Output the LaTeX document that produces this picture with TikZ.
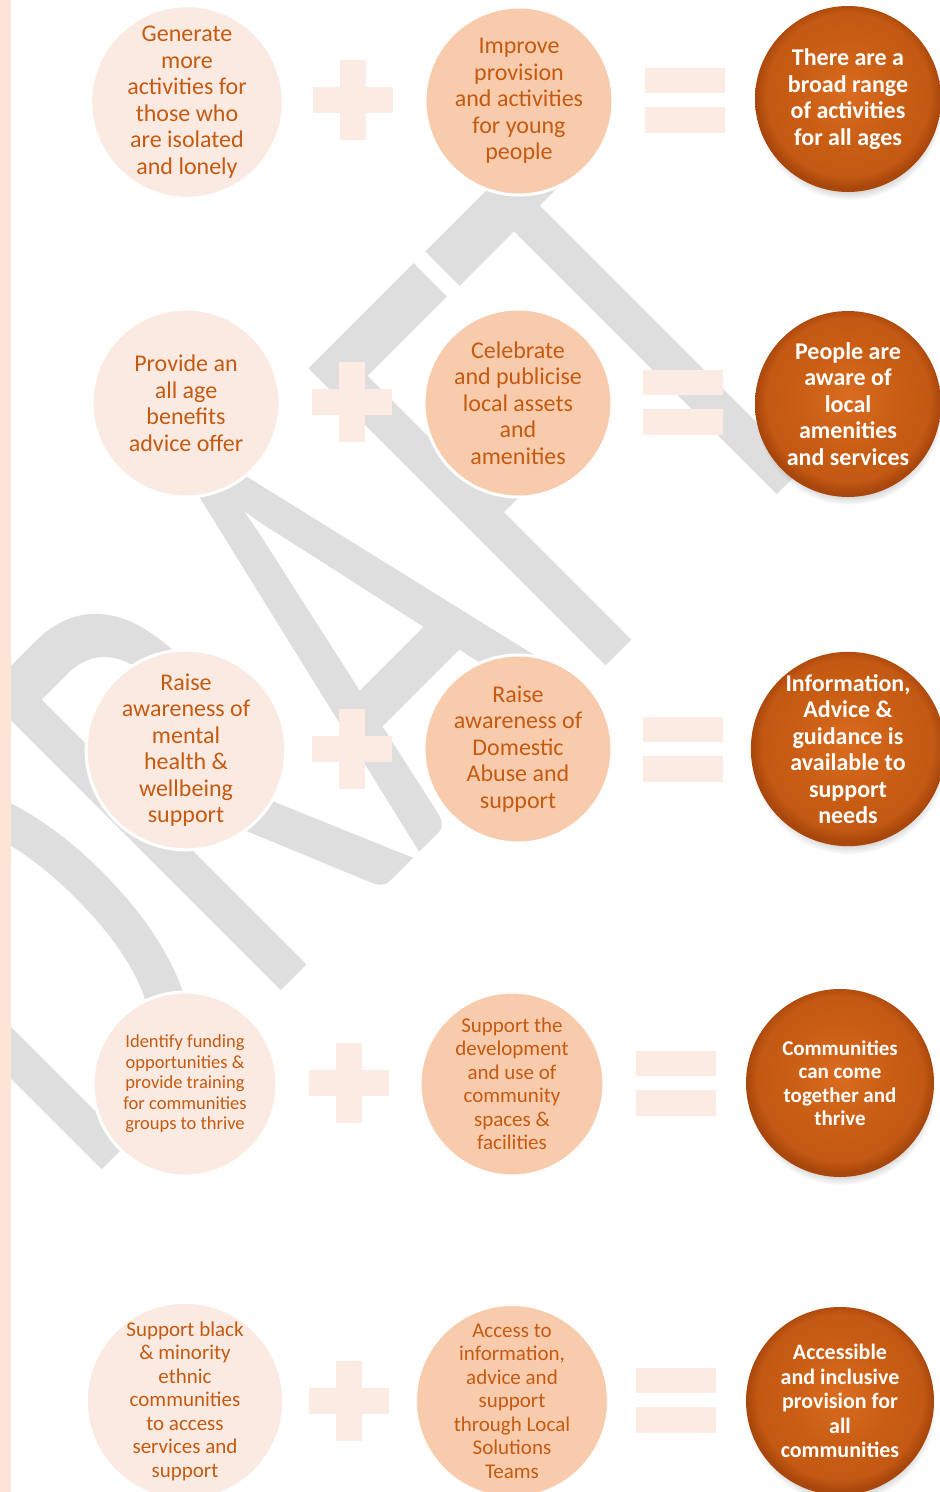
\documentclass[tikz,border=0pt]{standalone}
\usepackage{fontspec}
\setmainfont{Carlito}
\usetikzlibrary{shadows,fadings}
\definecolor{txt}{HTML}{C55A11}
\definecolor{lfill}{HTML}{FBEAE1}
\definecolor{mfill}{HTML}{F8CBAD}
\definecolor{signc}{HTML}{FBEBE2}
\definecolor{stripec}{HTML}{FBE5D6}
\definecolor{wm}{HTML}{DEDEDE}
\definecolor{oL}{HTML}{D96C1F}
\definecolor{oM}{HTML}{C95D14}
\definecolor{oD}{HTML}{A8460C}
\pgfdeclareradialshading{orb}{\pgfpoint{0bp}{2bp}}{color(0bp)=(oL); color(14bp)=(oM); color(22bp)=(oM!80!oD); color(25bp)=(oD); color(50bp)=(oD)}
\tikzset{
  plussign/.pic={\fill[signc] (-40,-13) rectangle (40,13); \fill[signc] (-13,-40) rectangle (13,40);},
  eqsign/.pic={\fill[signc] (-40,-32) rectangle (40,-7); \fill[signc] (-40,7) rectangle (40,33);}
}
\begin{document}
\begin{tikzpicture}[x=1pt,y=-1pt,
  lcirc/.style={circle, fill=lfill, draw=white, line width=3pt, text=txt, align=center, inner sep=0pt},
  mcirc/.style={lcirc, fill=mfill},
  rcirc/.style={circle, shade, shading=orb, draw=none, text=white, align=center, inner sep=0pt,
    circular drop shadow={shadow xshift=1pt, shadow yshift=-8pt, opacity=0.45, shadow scale=1.0, fill=black!55}},
  fbig/.style={font=\fontsize{24}{26.5}\selectfont},
  fbigb/.style={font=\fontsize{24}{26.5}\selectfont\bfseries},
  fsmall/.style={font=\fontsize{18.5}{20.5}\selectfont},
  fmid/.style={font=\fontsize{21}{23.5}\selectfont},
  fmidb/.style={font=\fontsize{21}{23.5}\selectfont\bfseries},
  fr5/.style={font=\fontsize{22}{24.5}\selectfont\bfseries}
]
\clip (0,0) rectangle (940,1492);
\fill[white] (0,0) rectangle (940,1492);
% watermark
\begin{scope}[shift={(82,1190)}, rotate=45, xscale=4.1, yscale=6.55]
  \node[anchor=base west, inner sep=0pt, text=wm, font=\fontsize{100}{100}\selectfont, transform shape] (wmark) at (0,0) {DRAFT};
\end{scope}
% row 1
\node[lcirc, fbig, minimum size=188pt] (l1) at (187,102) {Generate\\more\\activities for\\those who\\are isolated\\and lonely};
\node[mcirc, fbig, minimum size=188pt] (m1) at (519,101) {Improve\\provision\\and activities\\for young\\people};
\node[rcirc, fbigb, minimum size=186pt] (r1) at (848,99) {There are a\\broad range\\of activities\\for all ages};
\pic at (353,100) {plussign};
\pic at (685,100) {eqsign};
% row 2
\node[lcirc, fbig, minimum size=188pt] (l2) at (186,403) {Provide an\\all age\\benefits\\advice offer};
\node[mcirc, fbig, minimum size=188pt] (m2) at (518,403) {Celebrate\\and publicise\\local assets\\and\\amenities};
\node[rcirc, fbigb, minimum size=186pt] (r2) at (848,404) {People are\\aware of\\local\\amenities\\and services};
\pic at (352,402) {plussign};
\pic at (683,402) {eqsign};
% row 3
\node[lcirc, fbig, minimum size=188pt] (l3) at (186,750) {Raise\\awareness of\\mental\\health \&\\wellbeing\\support};
\node[mcirc, fbig, minimum size=188pt] (m3) at (518,749) {Raise\\awareness of\\Domestic\\Abuse and\\support};
\node[rcirc, fbigb, minimum size=186pt] (r3) at (848,749) {Information,\\Advice \&\\guidance is\\available to\\support\\needs};
\pic at (352,749) {plussign};
\pic at (683,749) {eqsign};
% row 4
\node[lcirc, fsmall, minimum size=184pt] (l4) at (185,1084) {Identify funding\\opportunities \&\\provide training\\for communities\\groups to thrive};
\node[mcirc, fmid, minimum size=184pt] (m4) at (512,1084) {Support the\\development\\and use of\\community\\spaces \&\\facilities};
\node[rcirc, fmidb, minimum size=188pt] (r4) at (840,1083) {Communities\\can come\\together and\\thrive};
\pic at (349,1083) {plussign};
\pic at (676,1083) {eqsign};
% row 5
\node[lcirc, fmid, minimum size=184pt] (l5) at (185,1401) {Support black\\\& minority\\ethnic\\communities\\to access\\services and\\support};
\node[mcirc, fmid, minimum size=184pt] (m5) at (512,1401) {Access to\\information,\\advice and\\support\\through Local\\Solutions\\Teams};
\node[rcirc, fr5, minimum size=188pt] (r5) at (840,1401) {Accessible\\and inclusive\\provision for\\all\\communities};
\pic at (349,1401) {plussign};
\pic at (676,1400) {eqsign};
% left stripe
\fill[stripec] (0,0) rectangle (11,1492);
\end{tikzpicture}
\end{document}
